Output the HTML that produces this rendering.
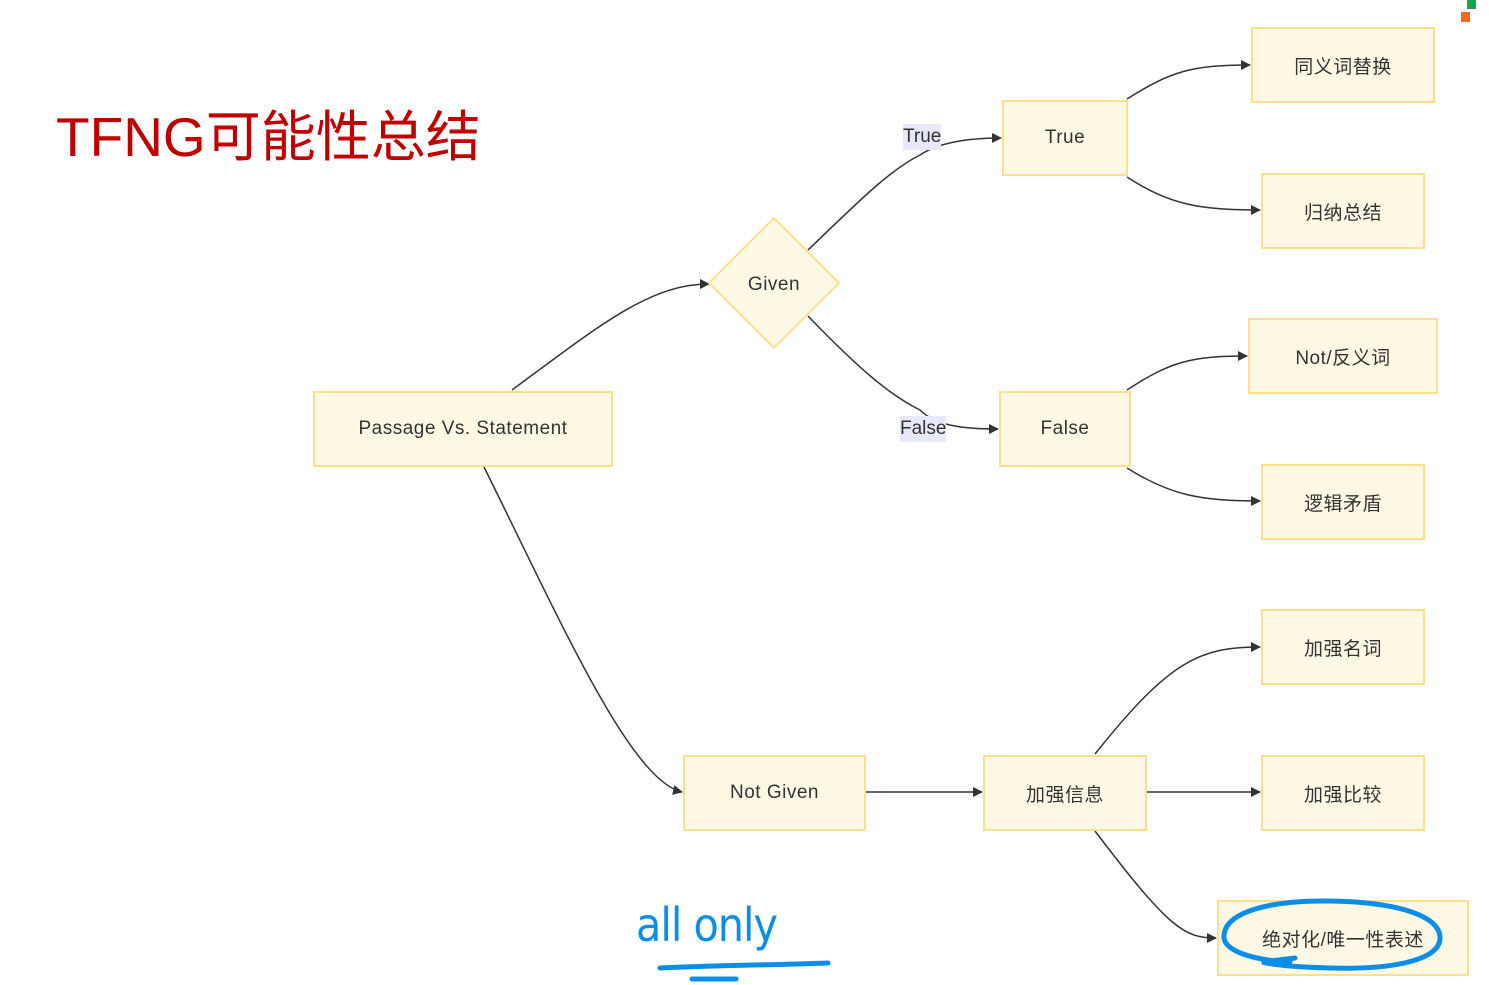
<!DOCTYPE html>
<html><head><meta charset="utf-8">
<style>
body{margin:0;width:1489px;height:985px;background:#fff;position:relative;overflow:hidden;font-family:"Liberation Sans","Noto Sans CJK SC",sans-serif;}
.b{position:absolute;box-sizing:border-box;background:#fff8e5;border:2px solid #fde08a;display:flex;align-items:center;justify-content:center;font-size:19px;color:#333;letter-spacing:0.5px}
.l{position:absolute;background:#e8e8fb;font-size:19px;color:#333;line-height:26px}
</style></head><body>
<div style="position:absolute;left:56px;top:99px;font-size:55px;color:#c00000;white-space:nowrap;line-height:76px">TFNG可能性总结</div>
<div style="position:absolute;left:1467px;top:0;width:9px;height:9px;background:#1aa44a"></div>
<div style="position:absolute;left:1461px;top:12px;width:9px;height:10px;background:#f06a1e"></div>
<svg width="1489" height="985" style="position:absolute;left:0;top:0">
<defs><marker id="a" markerWidth="10" markerHeight="10" refX="9" refY="5" orient="auto" markerUnits="userSpaceOnUse"><path d="M0,0L10,5L0,10z" fill="#333"/></marker></defs>
<g fill="none" stroke="#333" stroke-width="1.5">
<path d="M512,390C600,325 650,284 709,284" marker-end="url(#a)"/>
<path d="M808,250C860,200 890,170 920,155C935,145 960,138 1001,138" marker-end="url(#a)"/>
<path d="M808,316C860,370 890,395 920,410C935,425 960,429 998,429" marker-end="url(#a)"/>
<path d="M1127,99C1170,72 1190,65 1250,65" marker-end="url(#a)"/>
<path d="M1127,177C1170,205 1200,210 1260,210" marker-end="url(#a)"/>
<path d="M1127,390C1170,362 1190,356 1247,356" marker-end="url(#a)"/>
<path d="M1127,468C1170,495 1200,501 1260,501" marker-end="url(#a)"/>
<path d="M484,467C560,620 630,780 682,792" marker-end="url(#a)"/>
<path d="M866,792L982,792" marker-end="url(#a)"/>
<path d="M1147,792L1260,792" marker-end="url(#a)"/>
<path d="M1095,754C1170,660 1200,647 1260,647" marker-end="url(#a)"/>
<path d="M1095,831C1170,930 1185,938 1216,938" marker-end="url(#a)"/>
</g>
<polygon points="774,218 839,283 774,348 709,283" fill="#fff8e5" stroke="#fde08a" stroke-width="2"/>
<text x="774" y="290" text-anchor="middle" font-size="19" fill="#333" font-family="Liberation Sans,sans-serif" letter-spacing="0.5">Given</text>
</svg>
<div class="l" style="left:903px;top:124px">True</div>
<div class="l" style="left:900px;top:416px">False</div>
<div class="b" style="left:313px;top:391px;width:300px;height:76px">Passage Vs. Statement</div>
<div class="b" style="left:1002px;top:100px;width:126px;height:76px">True</div>
<div class="b" style="left:999px;top:391px;width:132px;height:76px">False</div>
<div class="b" style="left:1251px;top:27px;width:184px;height:76px">同义词替换</div>
<div class="b" style="left:1261px;top:173px;width:164px;height:76px">归纳总结</div>
<div class="b" style="left:1248px;top:318px;width:190px;height:76px">Not/反义词</div>
<div class="b" style="left:1261px;top:464px;width:164px;height:76px">逻辑矛盾</div>
<div class="b" style="left:1261px;top:609px;width:164px;height:76px">加强名词</div>
<div class="b" style="left:1261px;top:755px;width:164px;height:76px">加强比较</div>
<div class="b" style="left:683px;top:755px;width:183px;height:76px">Not Given</div>
<div class="b" style="left:983px;top:755px;width:164px;height:76px">加强信息</div>
<div class="b" style="left:1217px;top:900px;width:252px;height:76px">绝对化/唯一性表述</div>
<svg width="1489" height="985" style="position:absolute;left:0;top:0">
<path d="M1290,962C1250,960 1222,950 1224,935C1226,912 1270,900 1330,901C1395,902 1440,915 1440,938C1440,958 1400,970 1330,968C1300,967 1280,966 1262,962L1295,958" fill="none" stroke="#0a8ee8" stroke-width="5" stroke-linecap="round"/>
<path d="M660,968C720,965 780,965 828,963" stroke="#0a8ee8" stroke-width="5" fill="none" stroke-linecap="round"/>
<path d="M692,979L736,979" stroke="#0a8ee8" stroke-width="5" fill="none" stroke-linecap="round"/>
</svg>
<div style="position:absolute;left:636px;top:895px;font-size:46px;color:#0a8ee8;line-height:60px;font-family:'DejaVu Sans Condensed','Liberation Sans Narrow',sans-serif;letter-spacing:-1px">all only</div>
</body></html>
